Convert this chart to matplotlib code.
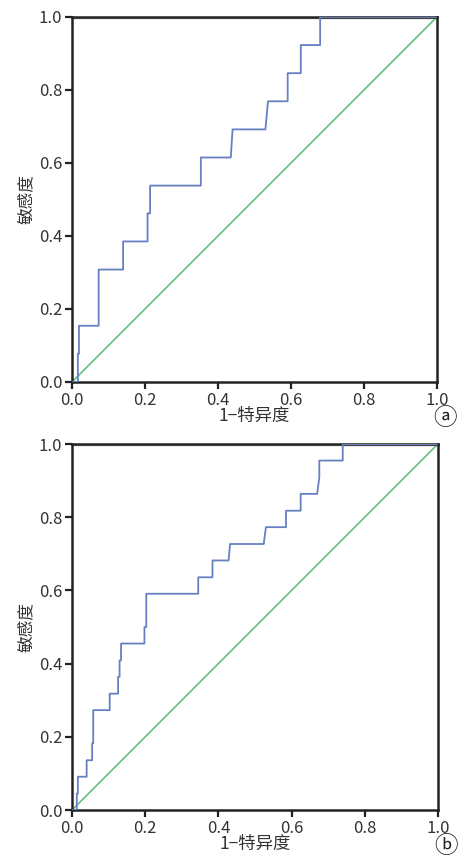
import matplotlib
matplotlib.use("Agg")
import matplotlib.pyplot as plt

plt.rcParams["font.family"] = ["Noto Sans CJK SC", "DejaVu Sans"]

# panel a: ROC steps (1-specificity, sensitivity)
fpr_a = [0.0, 0.016, 0.016, 0.019, 0.019, 0.073, 0.073, 0.14, 0.14, 0.207, 0.207, 0.214, 0.214,
         0.353, 0.353, 0.435, 0.44, 0.53, 0.537, 0.591, 0.591, 0.627, 0.627, 0.68, 0.68, 1.0]
tpr_a = [0.0, 0.0, 0.077, 0.077, 0.154, 0.154, 0.308, 0.308, 0.385, 0.385, 0.462, 0.462, 0.538,
         0.538, 0.615, 0.615, 0.692, 0.692, 0.769, 0.769, 0.846, 0.846, 0.923, 0.923, 1.0, 1.0]

# panel b
fpr_b = [0.0, 0.013, 0.013, 0.016, 0.016, 0.04, 0.04, 0.055, 0.055, 0.058, 0.058, 0.103, 0.103,
         0.126, 0.126, 0.13, 0.13, 0.134, 0.134, 0.198, 0.198, 0.203, 0.203, 0.345, 0.345,
         0.384, 0.384, 0.428, 0.432, 0.524, 0.53, 0.585, 0.585, 0.625, 0.625, 0.67, 0.676,
         0.676, 0.74, 0.74, 1.0]
tpr_b = [0.0, 0.0, 0.045, 0.045, 0.091, 0.091, 0.136, 0.136, 0.182, 0.182, 0.273, 0.273, 0.318,
         0.318, 0.364, 0.364, 0.409, 0.409, 0.455, 0.455, 0.5, 0.5, 0.591, 0.591, 0.636,
         0.636, 0.682, 0.682, 0.727, 0.727, 0.773, 0.773, 0.818, 0.818, 0.864, 0.864, 0.909,
         0.955, 0.955, 1.0, 1.0]

ticks = [0.0, 0.2, 0.4, 0.6, 0.8, 1.0]
tick_labels = ["0.0", "0.2", "0.4", "0.6", "0.8", "1.0"]
panel_tags = ["ⓐ", "ⓑ"]

blue = "#6680c2"
green = "#62c07c"

fig = plt.figure(figsize=(4.59, 8.57), dpi=100)
ax_a = fig.add_axes([0.1569, 0.5543, 0.795, 0.4259])
ax_b = fig.add_axes([0.1569, 0.0548, 0.797, 0.427])

for ax, fx, ty, tag in [(ax_a, fpr_a, tpr_a, panel_tags[0]), (ax_b, fpr_b, tpr_b, panel_tags[1])]:
    ax.plot(fx, ty, color=blue, lw=1.3, zorder=3)
    ax.plot([0, 1], [0, 1], color=green, lw=1.2, zorder=2)
    ax.axhline(1.0, color="#a8a8a8", lw=2.5, zorder=1)
    ax.set_xlim(0, 1)
    ax.set_ylim(0, 1)
    ax.set_xticks(ticks)
    ax.set_xticklabels(tick_labels)
    ax.set_yticks(ticks)
    ax.set_yticklabels(tick_labels)
    ax.tick_params(direction="out", length=5, width=1.6, colors="#222222",
                   labelsize=12, labelcolor="#333333", pad=2)
    for s in ax.spines.values():
        s.set_linewidth(1.8)
        s.set_color("#222222")
    ax.set_xlabel("1−特异度", fontsize=12.5, color="#333333", labelpad=-1)
    ax.set_ylabel("敏感度", fontsize=12, color="#333333", labelpad=3)
    ax.text(1.022, -0.098, tag, transform=ax.transAxes, fontsize=17,
            ha="center", va="center", color="#222222",
            family=["DejaVu Sans", "Noto Sans CJK SC"])

fig.savefig("out.png", dpi=100)
